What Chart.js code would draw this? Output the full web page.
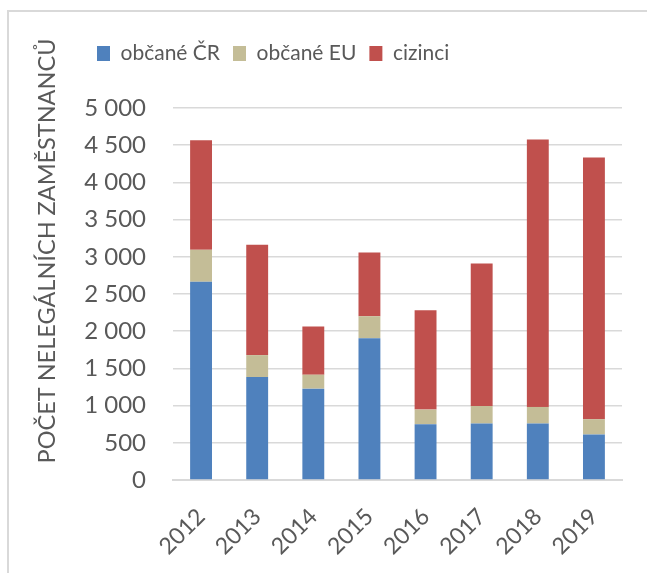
<!DOCTYPE html>
<html>
<head>
<meta charset="utf-8">
<script src="https://cdn.jsdelivr.net/npm/chart.js@4.4.0/dist/chart.umd.min.js"></script>
<style>
  html, body { margin: 0; padding: 0; background: #fff; }
  #frame { position: absolute; left: 7px; top: 10px; width: 700px; height: 600px;
           border-left: 2px solid #d9d9d9; border-top: 2px solid #d9d9d9; }
  #wrap { position: absolute; left: 0; top: 0; width: 647px; height: 573px; }
</style>
</head>
<body>
<div id="frame"></div>
<div id="wrap"><canvas id="chart" width="647" height="573"></canvas></div>
<script>
const years = ['2012', '2013', '2014', '2015', '2016', '2017', '2018', '2019'];
const obcaneCR = [2665, 1384, 1228, 1906, 750, 759, 759, 612];
const obcaneEU = [429, 295, 187, 295, 196, 236, 223, 205];
const cizinci = [1473, 1482, 648, 857, 1335, 1916, 3594, 3518];
const seriesNames = ['občané ČR', 'občané EU', 'cizinci'];
const yTitle = 'POČET NELEGÁLNÍCH ZAMĚSTNANCŮ';

const textColor = '#595959';
const gridColor = '#d9d9d9';

Chart.defaults.font.family = 'Lato';
Chart.defaults.color = textColor;

function spaced(v) {
    return String(v).replace(/\B(?=(\d{3})+(?!\d))/g, ' ');
}

// legend gets extra room below it so the plot starts lower
const legendSpace = {
    id: 'legendSpace',
    beforeInit(chart) {
        const fit = chart.legend.fit;
        chart.legend.fit = function () {
            fit.bind(chart.legend)();
            this.height += 34;
        };
    }
};

// y title sits higher than the plot centre, so draw it by hand
const yTitlePlugin = {
    id: 'yTitlePlugin',
    afterDraw(chart) {
        const ctx = chart.ctx;
        const area = chart.chartArea;
        ctx.save();
        ctx.translate(55, (area.top + area.bottom) / 2 - 43);
        ctx.rotate(-Math.PI / 2);
        ctx.textAlign = 'center';
        ctx.textBaseline = 'alphabetic';
        ctx.font = '23.5px Lato';
        ctx.fillStyle = textColor;
        ctx.fillText(yTitle, 0, 0);
        ctx.restore();
    }
};

const ctx = document.getElementById('chart').getContext('2d');
const chart = new Chart(ctx, {
    type: 'bar',
    data: {
        labels: years,
        datasets: [
            { label: seriesNames[0], data: obcaneCR, backgroundColor: '#4F81BD' },
            { label: seriesNames[1], data: obcaneEU, backgroundColor: '#C4BD97' },
            { label: seriesNames[2], data: cizinci, backgroundColor: '#C0504D' }
        ]
    },
    options: {
        responsive: false,
        animation: false,
        layout: { padding: { left: 84, top: 30, right: 25, bottom: 0 } },
        datasets: { bar: { barPercentage: 0.39, categoryPercentage: 1 } },
        plugins: {
            legend: {
                position: 'top',
                align: 'start',
                labels: {
                    font: { size: 21 },
                    color: textColor,
                    boxWidth: 13,
                    boxHeight: 15,
                    padding: 13
                }
            },
            tooltip: { enabled: false }
        },
        scales: {
            x: {
                stacked: true,
                grid: { display: false },
                border: { display: true, color: gridColor, width: 2 },
                ticks: {
                    font: { size: 23 },
                    color: textColor,
                    minRotation: 45,
                    maxRotation: 45,
                    padding: 15
                },
                afterFit(scale) { scale.height = 93; }
            },
            y: {
                stacked: true,
                min: 0,
                max: 5000,
                border: { display: false },
                grid: { color: gridColor, lineWidth: 1.5, drawTicks: false },
                ticks: {
                    stepSize: 500,
                    font: { size: 24 },
                    color: textColor,
                    padding: 27,
                    callback: (v) => spaced(v)
                },
                afterFit(scale) { scale.width = 89; }
            }
        }
    },
    plugins: [legendSpace, yTitlePlugin]
});
</script>
</body>
</html>
